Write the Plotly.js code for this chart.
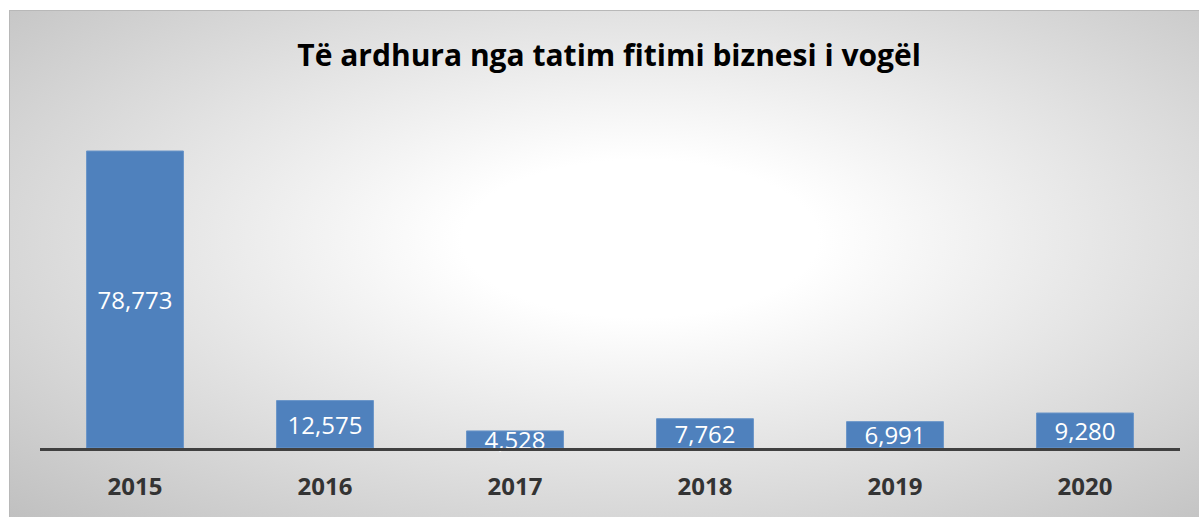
<!DOCTYPE html>
<html>
<head>
<meta charset="utf-8">
<script src="https://cdn.plot.ly/plotly-3.0.1.min.js"></script>
<style>
html,body{margin:0;padding:0;background:#fff;}
#frame{position:absolute;left:9px;top:10px;width:1190px;height:507px;box-sizing:border-box;border-left:1px solid #b8b8b8;border-top:1px solid #b8b8b8;
background:radial-gradient(ellipse farthest-corner at 53% 45%, #ffffff 0%, #ffffff 20%, #c0c0c0 100%);}
#chart{position:absolute;left:0;top:0;width:1199px;height:517px;}
</style>
</head>
<body>
<div id="frame"></div>
<div id="chart"></div>
<script>
const years = ['2015','2016','2017','2018','2019','2020'];
const revenue = [78773, 12575, 4528, 7762, 6991, 9280];
const labels = ['78,773','12,575','4,528','7,762','6,991','9,280'];
const chartTitle = 'Të ardhura nga tatim fitimi biznesi i vogël';

const trace = {
  type: 'bar',
  x: years,
  y: revenue,
  text: labels,
  textposition: 'inside',
  insidetextanchor: 'middle',
  constraintext: 'none',
  textfont: {family: 'Open Sans, sans-serif', size: 24, color: '#ffffff'},
  marker: {color: '#4f81bd', line: {color: '#6a95c8', width: 1}},
  hoverinfo: 'skip',
  cliponaxis: false
};

const layout = {
  width: 1199, height: 517,
  paper_bgcolor: 'rgba(0,0,0,0)',
  plot_bgcolor: 'rgba(0,0,0,0)',
  margin: {l: 40, r: 19, t: 100, b: 69},
  bargap: 0.49,
  showlegend: false,
  title: {
    text: '<b>' + chartTitle + '</b>',
    font: {family: 'Open Sans, sans-serif', size: 30, color: '#000000'},
    xref: 'container', x: 0.508, xanchor: 'center',
    yref: 'container', y: 0.893, yanchor: 'middle'
  },
  xaxis: {
    type: 'category',
    showline: true, linecolor: '#404040', linewidth: 3,
    ticks: '', ticklabelstandoff: 15,
    tickfont: {family: 'Open Sans, sans-serif', size: 24, color: '#333333', weight: 'bold'},
    showgrid: false, zeroline: false, fixedrange: true
  },
  yaxis: {
    range: [0, 92300],
    visible: false, showgrid: false, zeroline: false, fixedrange: true
  }
};

Plotly.newPlot('chart', [trace], layout, {displayModeBar: false, staticPlot: true});
</script>
</body>
</html>
